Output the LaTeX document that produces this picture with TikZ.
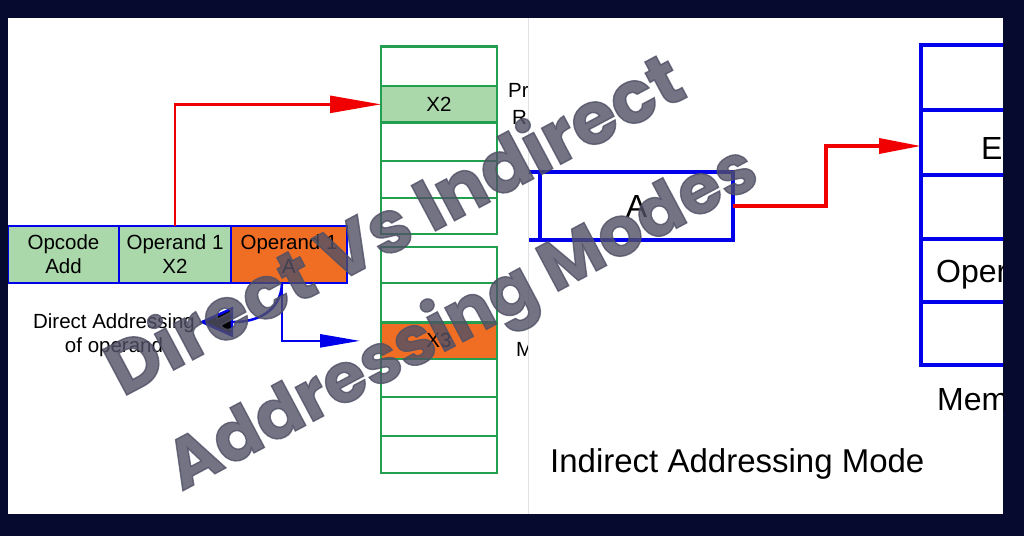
\documentclass[tikz,border=0pt]{standalone}
\usepackage{fontspec}
\setmainfont{Liberation Sans}
\newfontfamily\wmfont{Poppins}[BoldFeatures={FakeBold=2}]
\usetikzlibrary{arrows.meta}
\definecolor{navy}{RGB}{6,10,46}
\definecolor{cgreen}{RGB}{171,216,170}
\definecolor{gborder}{RGB}{34,160,80}
\definecolor{corange}{RGB}{240,110,35}
\definecolor{cblue}{RGB}{0,0,235}
\definecolor{cred}{RGB}{240,0,0}
\definecolor{wmgray}{RGB}{80,80,102}
\definecolor{divider}{RGB}{225,225,228}
\begin{document}
\begin{tikzpicture}[x=1pt,y=-1pt,
  memL/.style={draw=gborder, line width=2.5pt, minimum width=116pt, inner sep=0pt, outer sep=0pt, font=\fontsize{20.5}{24}\selectfont},
  rowcell/.style={draw=cblue, line width=2.5pt, minimum height=57pt, inner sep=0pt, outer sep=0pt, align=center, font=\fontsize{20.5}{24}\selectfont},
  lbl/.style={inner sep=0pt, font=\fontsize{20.5}{24}\selectfont},
  bigl/.style={inner sep=0pt, font=\fontsize{32}{38}\selectfont},
  rcell/.style={draw=cblue, line width=3.5pt, inner sep=0pt, outer sep=0pt},
  redL/.style={draw=cred, line width=2.5pt, -{Triangle[length=51pt,width=17pt]}},
  blueL/.style={draw=cblue, line width=2.5pt},
  redR/.style={draw=cred, line width=3.5pt, -{Triangle[length=42pt,width=15pt]}},
  wmstyle/.style={inner sep=0pt, text=wmgray, text opacity=0.8, anchor=base, rotate=28}
]
\useasboundingbox (0,0) rectangle (1024,536);
\fill[navy] (0,0) rectangle (1024,536);
\fill[white] (8,18) rectangle (1003,514);

% ---------- left half ----------
\begin{scope}
\clip (8,18) rectangle (528,514);
\node[memL, minimum height=39.3pt] (m1) at (439,66.35) {};
\node[memL, minimum height=36.7pt, fill=cgreen] (m2) at (439,104.35) {X2};
\node[memL, minimum height=38.3pt] (m3) at (439,141.85) {};
\node[memL, minimum height=37pt] (m4) at (439,179.5) {};
\node[memL, minimum height=36pt] (m5) at (439,216) {};
\node[memL, minimum height=36pt] (m6) at (439,265) {};
\node[memL, minimum height=39.7pt] (m7) at (439,302.85) {};
\node[memL, minimum height=36.3pt, fill=corange] (m8) at (439,340.85) {X3};
\node[memL, minimum height=38pt] (m9) at (439,378) {};
\node[memL, minimum height=39pt] (m10) at (439,416.5) {};
\node[memL, minimum height=37pt] (m11) at (439,454.5) {};

\node[rowcell, minimum width=111pt, fill=cgreen] (opc) at (63.5,254.5) {Opcode\\Add};
\node[rowcell, minimum width=112pt, fill=cgreen] (opx) at (175,254.5) {Operand 1\\X2};
\node[rowcell, minimum width=116pt, fill=corange] (opa) at (289,254.5) {Operand 1\\A};

\draw[redL] (opx.north) |- (m2.west);
\draw[blueL, -{Triangle[length=40pt,width=13pt]}] ([xshift=-7pt]opa.south) |- ([xshift=-21pt]m8.west);

\node[lbl, align=center] (dao) at (114,335) {Direct Addressing\\of operand};
\coordinate (dtip) at (199,322);
\draw[blueL] ([xshift=-7pt]opa.south) .. controls +(-1,29) and +(22,0) .. ([xshift=35pt]dtip);
\draw[blueL, -{Triangle[length=34pt,width=30pt,fill=black]}] ([xshift=36pt]dtip) -- (dtip);

\node[lbl, anchor=base west] (pr) at (508,97) {Pr};
\node[lbl, anchor=base west] (re) at (512,124) {Re};
\node[lbl, anchor=base west] (mm) at (516,356) {M};
\end{scope}

% ---------- right half ----------
\begin{scope}
\clip (528,18) rectangle (1003,514);
\node[rcell, minimum width=141pt, minimum height=68pt] (aprev) at (470,206) {};
\node[rcell, minimum width=193pt, minimum height=68pt, bigl] (abox) at (636.5,206) {A};
\node[rcell, minimum width=180pt, minimum height=65pt] (r1) at (1011,77.5) {};
\node[rcell, minimum width=180pt, minimum height=65pt] (r2) at (1011,142.5) {};
\node[rcell, minimum width=180pt, minimum height=64pt] (r3) at (1011,207) {};
\node[rcell, minimum width=180pt, minimum height=63pt] (r4) at (1011,270.5) {};
\node[rcell, minimum width=180pt, minimum height=63pt] (r5) at (1011,333.5) {};
\node[bigl, anchor=base west] (ee) at (981,159) {E};
\node[bigl, anchor=base west] (oper) at (936,282) {Oper};
\node[bigl, anchor=base west] (mem) at (937,410) {Mem};
\draw[redR] (abox.east) -- ++(93,0) |- ([yshift=-3.5pt]r2.west);
\node[inner sep=0pt, anchor=base west, font=\fontsize{33}{38}\selectfont] (iam) at (550,472) {Indirect Addressing Mode};
\end{scope}

\draw[divider, line width=1pt] (528,18) -- (528,514);

% ---------- watermark ----------
\node[wmstyle, font=\wmfont\bfseries\fontsize{73}{78}\selectfont] (wm1) at (406,246.5) {Direct Vs Indirect};
\node[wmstyle, font=\wmfont\bfseries\fontsize{69}{74}\selectfont] (wm2) at (472,337) {Addressing Modes};
\end{tikzpicture}
\end{document}
